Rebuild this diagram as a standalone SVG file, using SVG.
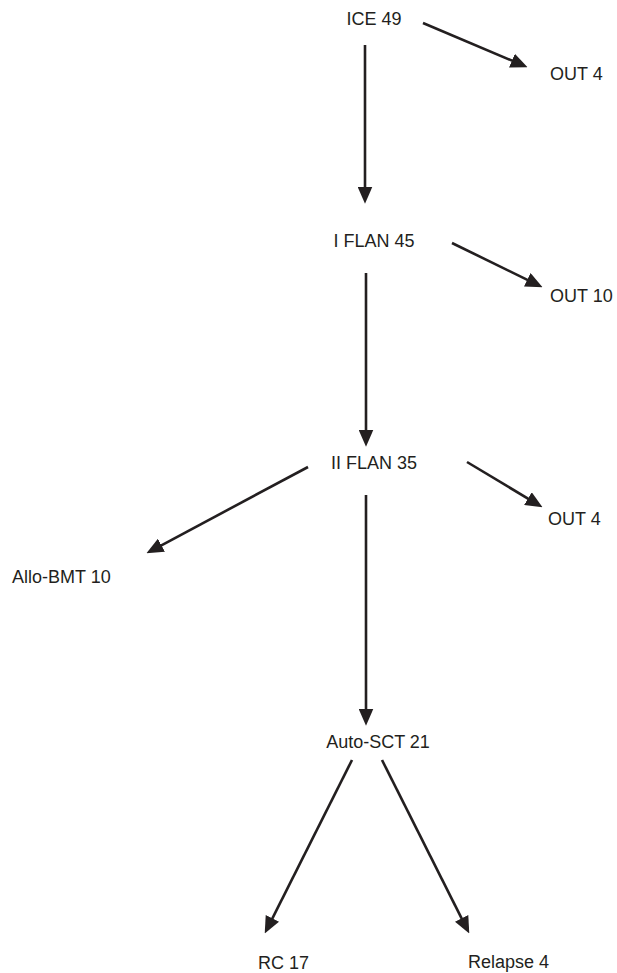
<svg xmlns="http://www.w3.org/2000/svg" width="617" height="973" viewBox="0 0 617 973">
<style>
text{font-family:"Liberation Sans",Arial,sans-serif;font-size:18px;fill:#231f20}
.c{text-anchor:middle}
.e{stroke:#231f20;stroke-width:2.6;fill:none;marker-end:url(#ah)}
</style>
<defs>
<marker id="ah" markerUnits="userSpaceOnUse" markerWidth="17" markerHeight="15" refX="6" refY="7" orient="auto" viewBox="0 0 16 14">
<path d="M0,0 L16,7 L0,14 z" fill="#231f20"/>
</marker>
</defs>
<g id="connectors">
<line class="e" x1="365" y1="45" x2="365" y2="193"/>
<line class="e" x1="423" y1="23" x2="517.8" y2="63.1"/>
<line class="e" x1="366" y1="273" x2="366" y2="436"/>
<line class="e" x1="452" y1="243" x2="533" y2="282.6"/>
<line class="e" x1="366" y1="495" x2="366" y2="715"/>
<line class="e" x1="467" y1="462" x2="533.4" y2="501.9"/>
<line class="e" x1="308" y1="467" x2="155.8" y2="548.3"/>
<line class="e" x1="352" y1="760" x2="269.5" y2="924.1"/>
<line class="e" x1="382" y1="760" x2="464.5" y2="924.1"/>
</g>
<g id="ice"><text class="c" x="374" y="25">ICE 49</text></g>
<g id="out1"><text x="550" y="80">OUT 4</text></g>
<g id="iflan"><text class="c" x="374" y="247">I FLAN 45</text></g>
<g id="out2"><text x="550" y="302">OUT 10</text></g>
<g id="iiflan"><text class="c" x="374" y="469">II FLAN 35</text></g>
<g id="out3"><text x="548" y="525">OUT 4</text></g>
<g id="allo"><text x="12" y="583">Allo-BMT 10</text></g>
<g id="auto"><text class="c" x="378" y="748">Auto-SCT 21</text></g>
<g id="rc"><text x="258" y="969">RC 17</text></g>
<g id="relapse"><text x="468" y="968">Relapse 4</text></g>
</svg>
